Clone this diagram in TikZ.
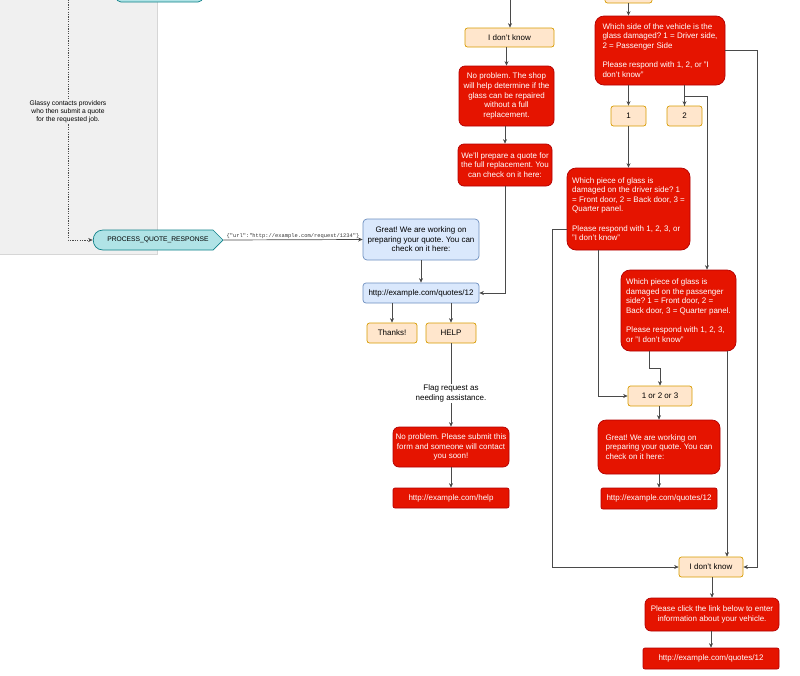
\documentclass[tikz,border=0pt]{standalone}
\usepackage{fontspec}
\setmainfont{Liberation Sans}
\newfontfamily\jsonmono{Liberation Mono}
\usetikzlibrary{arrows.meta}
\definecolor{redfill}{HTML}{E51400}
\definecolor{redline}{HTML}{B20000}
\definecolor{orangefill}{HTML}{FFE6CC}
\definecolor{orangeline}{HTML}{D79B00}
\definecolor{bluefill}{HTML}{DAE8FC}
\definecolor{blueline}{HTML}{6C8EBF}
\definecolor{tealfill}{HTML}{B0E3E6}
\definecolor{tealline}{HTML}{0E8088}
\definecolor{panelfill}{HTML}{F0F0F0}
\definecolor{panelline}{HTML}{D6D6D6}
\definecolor{wirecol}{HTML}{4A4A4A}
\newcommand\boxfont{\fontsize{8}{9.6}\selectfont}
\newcommand\notefont{\fontsize{6.7}{8}\selectfont}
\newcommand\jsonfont{\jsonmono\fontsize{5.4}{6}\selectfont}
\frenchspacing

\begin{document}
\begin{tikzpicture}[x=1pt,y=-1pt,
  sz/.style 2 args={minimum width=#1pt, minimum height=#2pt},
  base/.style={rectangle, draw, line width=0.7pt, inner sep=2pt, font=\boxfont, align=center},
  redbox/.style={base, rounded corners=6pt, draw=redline, fill=redfill, text=white},
  redleft/.style={redbox, align=left},
  urlbox/.style={redbox, rounded corners=2pt},
  answer/.style={base, rounded corners=2.5pt, draw=orangeline, fill=orangefill},
  bluebox/.style={base, rounded corners=4pt, draw=blueline, fill=bluefill},
  tealbox/.style={base, rounded corners=5pt, draw=tealline, fill=tealfill},
  wire/.style={draw=wirecol, line width=0.7pt},
  >={Stealth[length=4.5pt,width=4pt]}
]
\useasboundingbox (0,0) rectangle (800,675);

% Provider panel
\filldraw[fill=panelfill, draw=panelline, line width=0.7pt] (-5,-5) rectangle (157,254);
\node[tealbox, sz={87}{20}] (fetch) at (159.5,-8) {};
\coordinate (dottop) at (68,-10);
\filldraw[fill=tealfill, draw=tealline, line width=0.7pt] (103,230) -- (213,230) -- (223,240) -- (213,250) -- (103,250) .. controls (90,250) and (90,230) .. (103,230) -- cycle;
\node[base, draw=none, sz={130}{20}, font=\notefont] (pqr) at (158,240) {PROCESS\_QUOTE\_RESPONSE};

% Quote ready / help branch
\node[bluebox, sz={116}{41}] (workingA) at (421,239.5) {Great! We are working on\\preparing your quote. You can\\check on it here:};
\node[bluebox, rounded corners=3pt, sz={116}{20}] (quoteA) at (421,293) {http://example.com/quotes/12};
\node[answer, sz={50}{20}] (thanks) at (392,333) {Thanks!};
\node[answer, sz={50}{20}] (help) at (451,333) {HELP};
\node[redbox, sz={116}{40}] (contactus) at (451,447) {No problem. Please submit this\\form and someone will contact\\you soon!};
\node[urlbox, sz={116}{20}] (helpurl) at (451,498) {http://example.com/help};

% Repair or replace
\coordinate (midtop) at (510,-10);
\node[answer, sz={89}{19}] (dkA) at (509.5,37.5) {I don't know};
\node[redbox, sz={95}{60}] (repair) at (506.5,96) {No problem. The shop\\will help determine if the\\glass can be repaired\\without a full\\replacement.};
\node[redbox, sz={94}{42}] (fullrep) at (505,165) {We'll prepare a quote for\\the full replacement. You\\can check on it here:};

% Which side / which piece
\node[answer, sz={47}{20}] (answerTop) at (628.5,-7) {};
\node[redleft, rounded corners=9pt, sz={130}{69}] (side) at (660,50.5) {Which side of the vehicle is the\\glass damaged? 1 = Driver side,\\2 = Passenger Side\\[9.6pt]Please respond with 1, 2, or "I\\don't know"};
\node[answer, sz={35}{20}] (one) at (628.5,116) {1};
\node[answer, sz={35}{20}] (two) at (684.5,116) {2};
\node[redleft, rounded corners=9pt, sz={123}{82}] (driver) at (628.5,209) {Which piece of glass is\\damaged on the driver side? 1\\= Front door, 2 = Back door, 3 =\\Quarter panel.\\[9.6pt]Please respond with 1, 2, 3, or\\"I don't know"};
\node[redleft, rounded corners=9pt, sz={115}{81}] (passenger) at (678.5,310.5) {Which piece of glass is\\damaged on the passenger\\side? 1 = Front door, 2 =\\Back door, 3 = Quarter panel.\\[9.6pt]Please respond with 1, 2, 3,\\or "I don't know"};
\node[answer, sz={64}{20}] (anypiece) at (660,396) {1 or 2 or 3};
\node[redleft, rounded corners=8pt, sz={122}{54}] (workingB) at (659,447) {Great! We are working on\\preparing your quote. You can\\check on it here:};
\node[urlbox, sz={116}{21}] (quoteB) at (659,498.5) {http://example.com/quotes/12};
\node[answer, sz={64}{20}] (dkB) at (711,567) {I don't know};
\node[redbox, sz={134}{33}] (vehicle) at (712,614.5) {Please click the link below to enter\\information about your vehicle.};
\node[urlbox, sz={136}{21}] (quoteC) at (711,658.5) {http://example.com/quotes/12};

% Connectors, left and middle
\draw[wire, dash pattern=on 1.2pt off 1.2pt, ->] (dottop) |- (pqr.west) node[pos=0.244, fill=panelfill, font=\notefont, align=center, inner sep=1pt] (contact) {Glassy contacts providers\\who then submit a quote\\for the requested job.};
\draw[wire,->] (pqr.east) -- (workingA.west) node[midway, above, inner sep=1pt, font=\jsonfont, text=black!80] (payload) {\{"url":"http://example.com/request/1234"\}};
\draw[wire,->] (workingA) -- (quoteA);
\draw[wire,->] (thanks.north |- quoteA.south) -- (thanks.north);
\draw[wire,->] (help.north |- quoteA.south) -- (help.north);
\draw[wire,->] (help) -- (contactus) node[pos=0.6, fill=white, font=\boxfont, align=center, inner sep=1pt] (flag) {Flag request as\\needing assistance.};
\draw[wire,->] (contactus) -- (helpurl);
\draw[wire,->] (midtop) -- (midtop |- dkA.north);
\draw[wire,->] (repair.north |- dkA.south) -- (repair.north);
\draw[wire,->] (fullrep.north |- repair.south) -- (fullrep.north);
\draw[wire,->] (fullrep.south) |- (quoteA.east);

% Connectors, right
\draw[wire,->] (answerTop.south) -- (answerTop.south |- side.north);
\draw[wire,->] (one.north |- side.south) -- (one.north);
\draw[wire,->] (two.north |- side.south) -- (two.north);
\draw[wire,->] (two.north) -- ++(0,-9) -| ([xshift=28.5pt]passenger.north);
\draw[wire,->] (side.east) -- ++(32,0) |- (dkB.east);
\draw[wire,->] (one) -- (driver);
\draw[wire,->] ([yshift=-20pt]driver.west) -- ++(-14,0) |- (dkB.west);
\draw[wire,->] ([xshift=-30.5pt]driver.south) |- (anypiece.west);
\draw[wire,->] ([xshift=-29.5pt]passenger.south) -- ++(0,17) -| (anypiece.north);
\draw[wire,->] ([xshift=48.5pt]passenger.south) -- ([xshift=48.5pt]passenger.south |- dkB.north);
\draw[wire,->] (workingB.north |- anypiece.south) -- (workingB.north);
\draw[wire,->] (workingB) -- (quoteB);
\draw[wire,->] (vehicle.north |- dkB.south) -- (vehicle.north);
\draw[wire,->] (quoteC.north |- vehicle.south) -- (quoteC.north);
\end{tikzpicture}
\end{document}
